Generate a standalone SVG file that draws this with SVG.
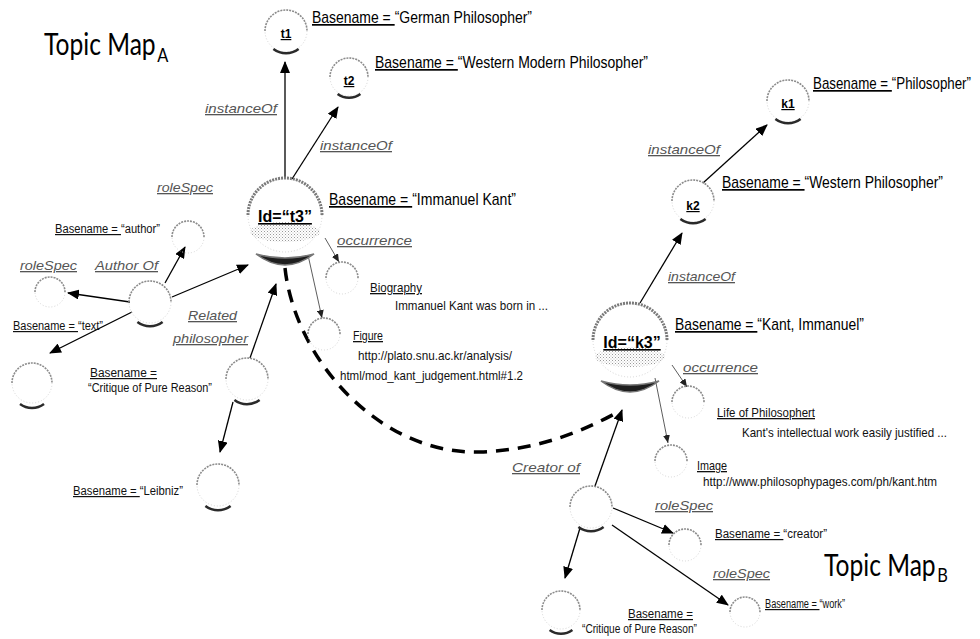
<svg xmlns="http://www.w3.org/2000/svg" width="980" height="639" viewBox="0 0 980 639">
<style>
text{font-family:"Liberation Sans",Arial,sans-serif;fill:#000}
.bn{font-size:17px}
.sm{font-size:12px;fill:#111}
.oc{font-size:13px;fill:#111}
.it{font-style:italic;font-size:13px;fill:#555;text-decoration:underline}
.u{text-decoration:underline}
.id{font-weight:bold;font-size:16px;text-anchor:middle;text-decoration:underline}
.tid{font-weight:bold;font-size:12px;text-anchor:middle;text-decoration:underline}
.title{font-family:Lato,"Open Sans",sans-serif;font-size:30px}
.sub{font-size:20px}
.top{fill:none;stroke:#8c8c8c;stroke-width:1.6;stroke-dasharray:2 1}
.topb{fill:none;stroke:#7a7a7a;stroke-width:3;stroke-dasharray:2 1}
.low{fill:none;stroke:#d6d6d6;stroke-width:1;stroke-dasharray:1 2}
.sh{fill:none;stroke:#2a2a2a;stroke-width:2.5}
.shb{fill:#1e1e1e;stroke:#777;stroke-width:1.5}
.band{fill:url(#dots)}
.a{stroke:#000;stroke-width:1.3;fill:none;marker-end:url(#ah)}
.at{stroke:#333;stroke-width:0.8;fill:none;marker-end:url(#ahs)}
.dash{stroke:#000;stroke-width:3.5;fill:none;stroke-dasharray:13 9}
</style>
<defs>
<pattern id="dots" width="3" height="3" patternUnits="userSpaceOnUse"><rect width="1" height="1" fill="#9a9a9a"/><rect x="1.5" y="1.5" width="1" height="1" fill="#bbb"/></pattern>
<marker id="ah" markerWidth="12" markerHeight="10" refX="11" refY="5" orient="auto" markerUnits="userSpaceOnUse"><path d="M0 0 L12 5 L0 10 Z" fill="#000"/></marker>
<marker id="ahs" markerWidth="8" markerHeight="7" refX="8" refY="3.5" orient="auto" markerUnits="userSpaceOnUse"><path d="M0 0 L8 3.5 L0 7 Z" fill="#222"/></marker>
</defs>
<rect width="980" height="639" fill="#fff"/>

<text class="title" transform="translate(44 55) scale(0.82 1)">Topic Map<tspan class="sub" dx="2" dy="7">A</tspan></text>
<text class="title" transform="translate(824 576) scale(0.82 1)">Topic Map<tspan class="sub" dx="2" dy="6">B</tspan></text>

<g id="connectors">
<path class="a" d="M285 178 L285 62"/>
<path class="a" d="M292 179 L338 107"/>
<path class="a" d="M640 303 L682 233"/>
<path class="a" d="M703 183 L767 125"/>
<path class="at" d="M325 238 L339 262"/>
<path class="at" d="M308 255 L322 318"/>
<path class="at" d="M672 365 L687 387"/>
<path class="at" d="M655 378 L668 443"/>
<path class="a" d="M172 297 L248 265"/>
<path class="a" d="M165 283 L185 247"/>
<path class="a" d="M130 302 L68 293"/>
<path class="a" d="M132 312 L50 353"/>
<path class="a" d="M250 358 L276 284"/>
<path class="a" d="M233 402 L220 452"/>
<path class="a" d="M595 486 L622 410"/>
<path class="a" d="M613 508 L673 533"/>
<path class="a" d="M612 525 L728 605"/>
<path class="a" d="M580 528 L565 578"/>
<path class="dash" d="M285 268 C295 360 380 455 480 452 C540 450 585 430 618 412"/>
</g>

<g id="t1">
<path class="top" d="M265 31 A21 21 0 0 1 307 31"/><path class="low" d="M307 31 A21 21 0 0 1 265 31"/>
<path class="sh" d="M273.4 49 A21 21 0 0 0 298.6 49"/>
<text class="tid" x="286" y="38">t1</text>
<text class="bn" x="312" y="23" textLength="220" lengthAdjust="spacingAndGlyphs"><tspan class="u">Basename = </tspan>“German Philosopher”</text>
</g>
<g id="t2">
<path class="top" d="M330 77 A19 19 0 0 1 368 77"/><path class="low" d="M368 77 A19 19 0 0 1 330 77"/>
<path class="sh" d="M337.6 94 A19 19 0 0 0 360.4 94"/>
<text class="tid" x="349" y="85">t2</text>
<text class="bn" x="375" y="68" textLength="273" lengthAdjust="spacingAndGlyphs"><tspan class="u">Basename = </tspan>“Western Modern Philosopher”</text>
</g>
<g id="t3">
<ellipse class="band" cx="285" cy="232" rx="35" ry="10"/>
<path class="topb" d="M248 215 A37 37 0 0 1 322 215"/><path class="low" d="M322 215 A37 37 0 0 1 248 215"/>
<path class="shb" d="M256 254 Q285 276 314 254 Q285 262 256 254 Z"/>
<text class="id" x="285" y="222">Id=“t3”</text>
<text class="bn" x="329" y="205" textLength="187" lengthAdjust="spacingAndGlyphs"><tspan class="u">Basename = </tspan>“Immanuel Kant”</text>
</g>
<g id="k1">
<path class="top" d="M767 101 A21 21 0 0 1 809 101"/><path class="low" d="M809 101 A21 21 0 0 1 767 101"/>
<path class="sh" d="M775.4 119 A21 21 0 0 0 800.6 119"/>
<text class="tid" x="788" y="108">k1</text>
<text class="bn" x="813" y="89" textLength="158" lengthAdjust="spacingAndGlyphs"><tspan class="u">Basename = </tspan>“Philosopher”</text>
</g>
<g id="k2">
<path class="top" d="M672 201 A21 21 0 0 1 714 201"/><path class="low" d="M714 201 A21 21 0 0 1 672 201"/>
<path class="sh" d="M680.4 219 A21 21 0 0 0 705.6 219"/>
<text class="tid" x="693" y="210">k2</text>
<text class="bn" x="722" y="188" textLength="221" lengthAdjust="spacingAndGlyphs"><tspan class="u">Basename = </tspan>“Western Philosopher”</text>
</g>
<g id="k3">
<ellipse class="band" cx="630" cy="357" rx="35" ry="10"/>
<path class="topb" d="M593 340 A37 37 0 0 1 667 340"/><path class="low" d="M667 340 A37 37 0 0 1 593 340"/>
<path class="shb" d="M601 381 Q630 403 659 381 Q630 389 601 381 Z"/>
<text class="id" x="632" y="348">Id=“k3”</text>
<text class="bn" x="675" y="330" textLength="189" lengthAdjust="spacingAndGlyphs"><tspan class="u">Basename = </tspan>“Kant, Immanuel”</text>
</g>

<g id="labels-instance">
<text class="it" x="205" y="113" textLength="72" lengthAdjust="spacingAndGlyphs">instanceOf</text>
<text class="it" x="320" y="150" textLength="72" lengthAdjust="spacingAndGlyphs">instanceOf</text>
<text class="it" x="648" y="154" textLength="72" lengthAdjust="spacingAndGlyphs">instanceOf</text>
<text class="it" x="668" y="281" textLength="67" lengthAdjust="spacingAndGlyphs">instanceOf</text>
</g>

<g id="biography">
<path class="top" d="M326 278 A16 16 0 0 1 358 278"/><path class="low" d="M358 278 A16 16 0 0 1 326 278"/>
<text class="it" x="337" y="245" textLength="75" lengthAdjust="spacingAndGlyphs">occurrence</text>
<text class="oc u" x="370" y="292" textLength="52" lengthAdjust="spacingAndGlyphs">Biography</text>
<text class="oc" x="395" y="310" textLength="153" lengthAdjust="spacingAndGlyphs">Immanuel Kant was born in ...</text>
</g>
<g id="figure">
<path class="top" d="M308 334 A16 16 0 0 1 340 334"/><path class="low" d="M340 334 A16 16 0 0 1 308 334"/>
<text class="oc u" x="353" y="340" textLength="30" lengthAdjust="spacingAndGlyphs">Figure</text>
<text class="oc" x="358" y="360" textLength="154" lengthAdjust="spacingAndGlyphs">http://plato.snu.ac.kr/analysis/</text>
<text class="oc" x="340" y="380" textLength="183" lengthAdjust="spacingAndGlyphs">html/mod_kant_judgement.html#1.2</text>
</g>
<g id="life">
<path class="top" d="M672 402 A16 16 0 0 1 704 402"/><path class="low" d="M704 402 A16 16 0 0 1 672 402"/>
<text class="it" x="683" y="372" textLength="75" lengthAdjust="spacingAndGlyphs">occurrence</text>
<text class="oc u" x="717" y="417" textLength="98" lengthAdjust="spacingAndGlyphs">Life of Philosophert</text>
<text class="oc" x="742" y="437" textLength="205" lengthAdjust="spacingAndGlyphs">Kant's intellectual work easily justified ...</text>
</g>
<g id="image">
<path class="top" d="M655 461 A16 16 0 0 1 687 461"/><path class="low" d="M687 461 A16 16 0 0 1 655 461"/>
<text class="oc u" x="697" y="470" textLength="30" lengthAdjust="spacingAndGlyphs">Image</text>
<text class="oc" x="703" y="486" textLength="234" lengthAdjust="spacingAndGlyphs">http://www.philosophypages.com/ph/kant.htm</text>
</g>

<g id="authorOf">
<path class="top" d="M129 302 A21 21 0 0 1 171 302"/><path class="low" d="M171 302 A21 21 0 0 1 129 302"/>
<path class="sh" d="M137.4 322 A21 21 0 0 0 162.6 322"/>
<text class="it" x="95" y="270" textLength="63" lengthAdjust="spacingAndGlyphs">Author Of</text>
</g>
<g id="authorRole">
<path class="top" d="M172 237 A16 16 0 0 1 204 237"/><path class="low" d="M204 237 A16 16 0 0 1 172 237"/>
<text class="it" x="157" y="192" textLength="56" lengthAdjust="spacingAndGlyphs">roleSpec</text>
<text class="sm" x="55" y="233" textLength="105" lengthAdjust="spacingAndGlyphs"><tspan class="u">Basename = </tspan>“author”</text>
</g>
<g id="textRole">
<path class="top" d="M35 292 A15 15 0 0 1 65 292"/><path class="low" d="M65 292 A15 15 0 0 1 35 292"/>
<text class="it" x="20" y="270" textLength="57" lengthAdjust="spacingAndGlyphs">roleSpec</text>
<text class="sm" x="13" y="330" textLength="90" lengthAdjust="spacingAndGlyphs"><tspan class="u">Basename = </tspan>“text”</text>
</g>
<g id="critiqueA">
<path class="top" d="M12 383 A20 20 0 0 1 52 383"/><path class="low" d="M52 383 A20 20 0 0 1 12 383"/>
<path class="sh" d="M20 404 A20 20 0 0 0 44 404"/>
<text class="sm u" x="90" y="377" textLength="67" lengthAdjust="spacingAndGlyphs">Basename =</text>
<text class="sm" x="88" y="392" textLength="124" lengthAdjust="spacingAndGlyphs">“Critique of Pure Reason”</text>
</g>
<g id="related">
<path class="top" d="M226 379 A21 21 0 0 1 268 379"/><path class="low" d="M268 379 A21 21 0 0 1 226 379"/>
<path class="sh" d="M234.4 400 A21 21 0 0 0 259.6 400"/>
<text class="it" x="188" y="320" textLength="49" lengthAdjust="spacingAndGlyphs">Related</text>
<text class="it" x="173" y="343" textLength="75" lengthAdjust="spacingAndGlyphs">philosopher</text>
</g>
<g id="leibniz">
<path class="top" d="M197 485 A21 21 0 0 1 239 485"/><path class="low" d="M239 485 A21 21 0 0 1 197 485"/>
<path class="sh" d="M205.4 506 A21 21 0 0 0 230.6 506"/>
<text class="sm" x="73" y="495" textLength="110" lengthAdjust="spacingAndGlyphs"><tspan class="u">Basename = </tspan>“Leibniz”</text>
</g>

<g id="creatorOf">
<path class="top" d="M570 507 A21 21 0 0 1 612 507"/><path class="low" d="M612 507 A21 21 0 0 1 570 507"/>
<path class="sh" d="M578.4 527 A21 21 0 0 0 603.6 527"/>
<text class="it" x="512" y="472" textLength="68" lengthAdjust="spacingAndGlyphs">Creator of</text>
</g>
<g id="creatorRole">
<path class="top" d="M669 545 A16 16 0 0 1 701 545"/><path class="low" d="M701 545 A16 16 0 0 1 669 545"/>
<text class="it" x="655" y="510" textLength="58" lengthAdjust="spacingAndGlyphs">roleSpec</text>
<text class="sm" x="715" y="538" textLength="112" lengthAdjust="spacingAndGlyphs"><tspan class="u">Basename = </tspan>“creator”</text>
</g>
<g id="workRole">
<path class="top" d="M730 612 A15 15 0 0 1 760 612"/><path class="low" d="M760 612 A15 15 0 0 1 730 612"/>
<text class="it" x="713" y="578" textLength="57" lengthAdjust="spacingAndGlyphs">roleSpec</text>
<text class="sm" x="765" y="608" textLength="80" lengthAdjust="spacingAndGlyphs"><tspan class="u">Basename = </tspan>“work”</text>
</g>
<g id="critiqueB">
<path class="top" d="M542 610 A19 19 0 0 1 580 610"/><path class="low" d="M580 610 A19 19 0 0 1 542 610"/>
<path class="sh" d="M549.6 630 A19 19 0 0 0 572.4 630"/>
<text class="sm u" x="628" y="618" textLength="65" lengthAdjust="spacingAndGlyphs">Basename =</text>
<text class="sm" x="582" y="633" textLength="115" lengthAdjust="spacingAndGlyphs">“Critique of Pure Reason”</text>
</g>
</svg>
